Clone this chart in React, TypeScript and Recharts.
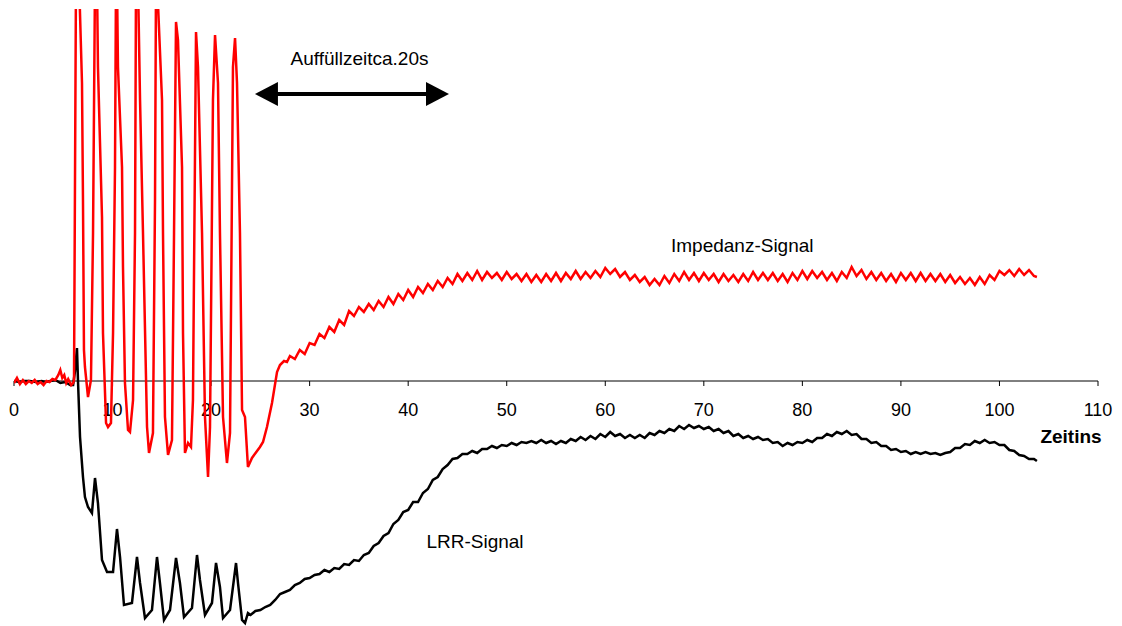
import { LineChart, Line, XAxis, YAxis, ReferenceDot, ReferenceLine } from "recharts"

const FONT = "'Liberation Sans', Arial, Helvetica, sans-serif"
const W = 1122
const H = 626
const MARGIN = { top: 9, right: 24, left: 14, bottom: 0 }

// time axis (s)
const timeTicks = [0, 10, 20, 30, 40, 50, 60, 70, 80, 90, 100, 110]

// Impedanz-Signal, [time s, relative units]
const impBaseline = [
  [0, -2], [0.3, 3], [0.6, -3], [0.9, 1], [1.2, -3], [1.5, 0], [1.8, -2], [2.1, 1], [2.4, -3], [2.7, -1],
  [3.0, -4], [3.3, 0], [3.6, -1], [3.9, 2], [4.2, 1], [4.5, 6], [4.7, 11], [4.9, 3], [5.1, 6], [5.3, -2],
  [5.5, 2], [5.8, -4], [6.0, -2],
]
const impSpikes = [
  [6.09, 1], [6.29, 401], [6.6, 401], [6.9, 298], [7.0, 181], [7.1, 31], [7.2, 14], [7.51, -16], [7.81, 1],
  [8.02, 148], [8.22, 401], [8.42, 401], [8.52, 314], [8.93, 164], [9.03, 48], [9.34, -42], [9.54, -46],
  [9.84, -42], [10.05, 48], [10.25, 214], [10.35, 401], [10.45, 401], [10.55, 314], [10.96, 214], [11.06, 114],
  [11.26, -2], [11.57, -49], [11.77, -51], [12.08, -19], [12.28, 148], [12.38, 401], [12.58, 401], [12.79, 281],
  [13.09, 148], [13.5, -46], [13.7, -72], [14.1, -52], [14.31, 181], [14.41, 401], [14.51, 401], [15.02, 281],
  [15.12, 148], [15.32, -36], [15.63, -74], [16.03, -59], [16.24, 148], [16.44, 359], [16.64, 341], [17.05, 214],
  [17.15, 48], [17.35, -72], [17.66, -62], [17.96, -66], [18.16, -19], [18.47, 349], [18.67, 314], [19.08, 148],
  [19.38, -36], [19.69, -96], [19.89, -46], [20.19, 281], [20.4, 346], [20.7, 298], [20.9, 148], [21.21, -36],
  [21.61, -82], [21.92, -52], [22.22, 314], [22.43, 343], [22.63, 298], [22.93, 148], [23.14, -29], [23.44, -36],
  [23.74, -86],
]
const impRecovery = [
  [24.15, -77], [24.96, -66], [25.27, -61], [25.67, -46], [26.18, -22], [26.69, 9], [26.99, 16], [27.4, 20],
  [27.7, 19],
]
const impPlateau = [
  [28, 25], [28.5, 22], [29, 31], [29.5, 27], [30, 38], [30.5, 36], [31, 47], [31.5, 43], [32, 54], [32.5, 49],
  [33, 61], [33.5, 56], [34, 70], [34.5, 65], [35, 74], [35.5, 69], [36, 77], [36.5, 71], [37, 80], [37.5, 74],
  [38, 84], [38.5, 77], [39, 87], [39.5, 81], [40, 91], [40.5, 84], [41, 94], [41.5, 88], [42, 97], [42.5, 91],
  [43, 100], [43.5, 94], [44, 103], [44.5, 97], [45, 107], [45.5, 100], [46, 108], [46.5, 101], [47, 110], [47.5, 101],
  [48, 109], [48.5, 103], [49, 108], [49.5, 101], [50, 109], [50.5, 102], [51, 107], [51.5, 100], [52, 107], [52.5, 99],
  [53, 106], [53.5, 99], [54, 107], [54.5, 100], [55, 108], [55.5, 100], [56, 108], [56.5, 102], [57, 110], [57.5, 102],
  [58, 109], [58.5, 103], [59, 110], [59.5, 104], [60, 113], [60.5, 107], [61, 112], [61.5, 104], [62, 109], [62.5, 101],
  [63, 106], [63.5, 99], [64, 104], [64.5, 96], [65, 102], [65.5, 96], [66, 105], [66.5, 98], [67, 107], [67.5, 100],
  [68, 109], [68.5, 101], [69, 108], [69.5, 100], [70, 108], [70.5, 101], [71, 107], [71.5, 99], [72, 107], [72.5, 100],
  [73, 106], [73.5, 99], [74, 107], [74.5, 100], [75, 109], [75.5, 101], [76, 108], [76.5, 101], [77, 108], [77.5, 100],
  [78, 107], [78.5, 99], [79, 108], [79.5, 101], [80, 110], [80.5, 102], [81, 110], [81.5, 103], [82, 109], [82.5, 101],
  [83, 108], [83.5, 100], [84, 109], [84.5, 103], [85, 114], [85.5, 105], [86, 111], [86.5, 102], [87, 109], [87.5, 101],
  [88, 108], [88.5, 100], [89, 107], [89.5, 99], [90, 108], [90.5, 101], [91, 108], [91.5, 100], [92, 108], [92.5, 100],
  [93, 107], [93.5, 100], [94, 107], [94.5, 99], [95, 106], [95.5, 98], [96, 104], [96.5, 97], [97, 103], [97.5, 96],
  [98, 104], [98.5, 97], [99, 106], [99.5, 101], [100, 110], [100.5, 106], [101, 111], [101.5, 105], [102, 112],
  [102.5, 106], [103, 111], [103.5, 105], [103.8, 104],
]

// LRR-Signal, [time s, relative units]
const lrrBaseline = [
  [0, 0], [0.5, -1], [1.0, 0], [1.6, 0], [2.2, -1], [2.8, 0], [3.2, -1], [3.7, 0], [4.2, 1], [4.7, -2],
  [5.2, -1], [5.7, -4], [6.0, -4],
]
const lrrDrop = [
  [6.19, 10], [6.39, 33], [6.49, 1], [6.7, -56], [7.0, -96], [7.2, -116], [7.51, -126], [7.91, -132], [8.22, -97],
  [8.52, -122], [8.93, -179], [9.44, -191], [10.05, -191], [10.45, -148], [10.76, -176], [11.16, -224], [11.97, -222],
  [12.48, -176], [12.79, -202], [13.29, -237], [14.0, -229], [14.51, -176], [14.81, -202], [15.22, -239], [15.83, -229],
  [16.44, -177], [16.84, -202], [17.25, -236], [18.06, -227], [18.57, -174], [18.87, -199], [19.38, -234], [20.09, -222],
  [20.5, -182], [20.9, -206], [21.21, -237], [21.92, -229], [22.53, -182], [22.73, -202], [23.14, -239], [23.44, -242],
  [23.74, -232],
]
const lrrRise = [
  [24, -234], [24.5, -230], [25, -229], [25.5, -226], [26, -224], [26.5, -219], [27, -213], [27.5, -211], [28, -209],
  [28.5, -204], [29, -202], [29.5, -198], [30, -197], [30.5, -194], [31, -193], [31.5, -189], [32, -191], [32.5, -187],
  [33, -188], [33.5, -183], [34, -184], [34.5, -179], [35, -180], [35.5, -174], [36, -172], [36.5, -165], [37, -162],
  [37.5, -155], [38, -152], [38.5, -143], [39, -139], [39.5, -131], [40, -129], [40.5, -121], [41, -121], [41.5, -112],
  [42, -108], [42.5, -99], [43, -96], [43.5, -88], [44, -84], [44.5, -78], [45, -77], [45.5, -73], [46, -73],
  [46.5, -70], [47, -72],
]
const lrrPlateau = [
  [47.5, -68], [48, -68], [48.5, -65], [49, -67], [49.5, -64], [50, -65], [50.5, -62], [51, -64], [51.5, -61], [52, -62],
  [52.5, -60], [53, -62], [53.5, -59], [54, -62], [54.5, -60], [55, -63], [55.5, -60], [56, -62], [56.5, -58], [57, -60],
  [57.5, -56], [58, -59], [58.5, -55], [59, -58], [59.5, -53], [60, -56], [60.5, -51], [61, -55], [61.5, -53], [62, -57],
  [62.5, -54], [63, -57], [63.5, -54], [64, -57], [64.5, -52], [65, -54], [65.5, -50], [66, -52], [66.5, -48], [67, -50],
  [67.5, -45], [68, -48], [68.5, -44], [69, -47], [69.5, -45], [70, -48], [70.5, -46], [71, -50], [71.5, -48], [72, -52],
  [72.5, -50], [73, -55], [73.5, -53], [74, -57], [74.5, -55], [75, -58], [75.5, -56], [76, -59], [76.5, -58], [77, -62],
  [77.5, -61], [78, -65], [78.5, -62], [79, -64], [79.5, -61], [80, -62], [80.5, -59], [81, -61], [81.5, -57], [82, -57],
  [82.5, -53], [83, -55], [83.5, -51], [84, -53], [84.5, -50], [85, -54], [85.5, -53], [86, -58], [86.5, -58], [87, -62],
  [87.5, -61], [88, -65], [88.5, -65], [89, -69], [89.5, -68], [90, -71], [90.5, -70], [91, -73], [91.5, -71], [92, -73],
  [92.5, -71], [93, -73], [93.5, -72], [94, -74], [94.5, -72], [95, -71], [95.5, -67], [96, -67], [96.5, -63], [97, -64],
  [97.5, -60], [98, -62], [98.5, -59], [99, -62], [99.5, -61], [100, -64], [100.5, -64], [101, -69], [101.5, -70],
  [102, -74], [102.5, -75], [103, -78], [103.5, -78], [103.8, -80],
]

const toPoints = (rows: number[][]) => rows.map(([t, v]) => ({ t, v }))
const impedanceData = toPoints([...impBaseline, ...impSpikes, ...impRecovery, ...impPlateau])
const lrrData = toPoints([...lrrBaseline, ...lrrDrop, ...lrrRise, ...lrrPlateau])

// filling time marker: 24.45 s .. 44.14 s
const fillStart = 24.45
const fillEnd = 44.14
const fillLevel = 287

function DoubleArrow(props: any) {
  const { x1, y1, x2 } = props
  const head = 23
  const half = 12
  return (
    <g>
      <line x1={x1 + head - 1} y1={y1} x2={x2 - head + 1} y2={y1} stroke="#000" strokeWidth={4} />
      <polygon points={`${x1},${y1} ${x1 + head},${y1 - half} ${x1 + head},${y1 + half}`} fill="#000" />
      <polygon points={`${x2},${y1} ${x2 - head},${y1 - half} ${x2 - head},${y1 + half}`} fill="#000" />
    </g>
  )
}

const textStyle = { fontSize: 19, fill: "#000", fontFamily: FONT }

export default function App() {
  return (
    <div style={{ position: "absolute", left: 0, top: 0, width: W, height: H, background: "#fff" }}>
      <div style={{ position: "absolute", left: 0, top: 0 }}>
        <LineChart width={W} height={451} data={impedanceData} margin={MARGIN}>
          <XAxis
            type="number"
            dataKey="t"
            domain={[0, 110]}
            ticks={timeTicks}
            interval={0}
            allowDataOverflow
            height={70}
            tickSize={5}
            tickMargin={17}
            axisLine={{ stroke: "#000", strokeWidth: 1 }}
            tickLine={{ stroke: "#000", strokeWidth: 1 }}
            tick={{ fontSize: 18, fill: "#000", fontFamily: FONT }}
          />
          <YAxis type="number" domain={[0, 372]} hide allowDataOverflow />
        </LineChart>
      </div>
      <div style={{ position: "absolute", left: 0, top: 0 }}>
        <LineChart width={W} height={H} data={impedanceData} margin={MARGIN}>
          <XAxis type="number" dataKey="t" domain={[0, 110]} hide allowDataOverflow />
          <YAxis type="number" domain={[-245, 372]} hide allowDataOverflow />
          <Line
            data={lrrData}
            dataKey="v"
            type="linear"
            stroke="#000"
            strokeWidth={2.5}
            dot={false}
            isAnimationActive={false}
          />
          <Line
            data={impedanceData}
            dataKey="v"
            type="linear"
            stroke="#ff0000"
            strokeWidth={2.5}
            dot={false}
            isAnimationActive={false}
          />
          <ReferenceLine
            segment={[
              { x: fillStart, y: fillLevel },
              { x: fillEnd, y: fillLevel },
            ]}
            shape={DoubleArrow}
          />
          <ReferenceDot
            x={35.06}
            y={323}
            r={0}
            fill="none"
            stroke="none"
            label={{ value: "Auffüllzeitca.20s", position: "center", ...textStyle }}
          />
          <ReferenceDot
            x={73.9}
            y={136}
            r={0}
            fill="none"
            stroke="none"
            label={{ value: "Impedanz-Signal", position: "center", ...textStyle }}
          />
          <ReferenceDot
            x={46.78}
            y={-160}
            r={0}
            fill="none"
            stroke="none"
            label={{ value: "LRR-Signal", position: "center", ...textStyle }}
          />
          <ReferenceDot
            x={107.26}
            y={-55}
            r={0}
            fill="none"
            stroke="none"
            label={{ value: "Zeitins", position: "center", ...textStyle, fontWeight: "bold" }}
          />
        </LineChart>
      </div>
    </div>
  )
}
